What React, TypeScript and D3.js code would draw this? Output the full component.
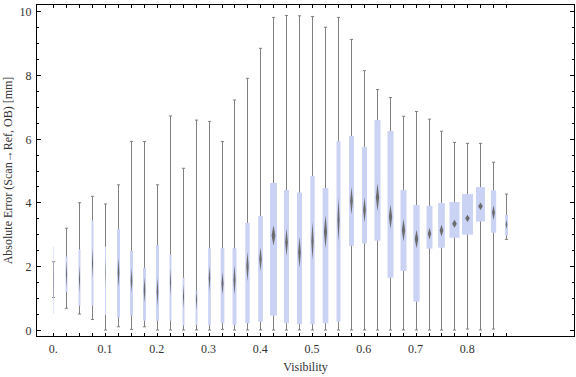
import React from "react";
import * as d3 from "d3";

// ---- data ----
const visibility = [0, 0.025, 0.05, 0.075, 0.1, 0.125, 0.15, 0.175, 0.2, 0.225, 0.25, 0.275, 0.3, 0.325, 0.35, 0.375, 0.4, 0.425, 0.45, 0.475, 0.5, 0.525, 0.55, 0.575, 0.6, 0.625, 0.65, 0.675, 0.7, 0.725, 0.75, 0.775, 0.8, 0.825, 0.85, 0.875];
const whiskerLo = [1.02, 0.68, 0.5, 0.33, 0.0, 0.1, 0.02, 0.1, 0.0, 0.0, 0.0, 0.0, 0.0, 0.02, 0.0, 0.0, 0.0, 0.0, 0.0, 0.0, 0.0, 0.0, 0.0, 0.0, 0.0, 0.0, 0.0, 0.0, 0.0, 0.0, 0.0, 0.0, 0.03, 0.0, 0.03, 2.84];
const quart1 = [0.52, 1.2, 0.76, 0.76, 0.47, 0.39, 0.45, 0.29, 0.29, 0.29, 0.14, 0.16, 0.16, 0.21, 0.16, 0.21, 0.26, 0.45, 0.21, 0.18, 0.18, 0.21, 0.26, 2.64, 2.71, 2.8, 1.64, 1.85, 0.89, 2.55, 2.58, 2.89, 2.99, 3.4, 3.05, 2.96];
const medians = [1.58, 1.75, 1.6, 2.1, 1.8, 1.8, 1.55, 1.25, 1.2, 1.5, 1.05, 0.95, 1.62, 1.46, 1.57, 1.99, 2.22, 2.96, 2.75, 2.43, 2.8, 3.08, 3.45, 4.05, 3.76, 4.16, 3.55, 3.13, 2.85, 3.02, 3.12, 3.33, 3.5, 3.88, 3.68, 3.31];
const quart3 = [2.61, 2.3, 2.53, 3.43, 2.61, 3.17, 2.48, 1.95, 2.66, 2.36, 1.64, 1.22, 2.56, 2.56, 2.56, 3.36, 3.57, 4.61, 4.39, 4.31, 4.83, 4.45, 5.92, 6.08, 5.74, 6.58, 6.24, 4.39, 3.92, 3.89, 3.98, 4.01, 4.26, 4.48, 4.38, 3.61];
const whiskerHi = [2.14, 3.19, 3.99, 4.19, 3.95, 4.55, 5.91, 5.91, 4.55, 6.71, 5.07, 6.58, 6.54, 5.91, 7.21, 7.89, 8.83, 9.8, 9.86, 9.85, 9.83, 9.49, 9.8, 9.11, 8.13, 7.54, 7.29, 6.7, 6.85, 6.61, 6.23, 5.88, 5.85, 5.85, 5.26, 4.26];
// spread of the median estimate (full height, in mm)
const medianSpread = [1.12, 0.8, 0.8, 0.9, 0.8, 0.84, 0.73, 0.73, 0.8, 0.8, 0.7, 0.6, 0.73, 0.63, 0.84, 0.84, 0.68, 0.57, 0.78, 0.89, 1.1, 0.94, 1.25, 0.78, 0.73, 0.78, 0.68, 0.65, 0.54, 0.34, 0.34, 0.23, 0.21, 0.21, 0.42, 0.26];
// relative sample count (controls box width)
const sampleCount = [12, 40, 40, 40, 20, 60, 60, 60, 60, 40, 40, 40, 54, 74, 80, 86, 94, 140, 100, 100, 86, 114, 80, 100, 100, 120, 120, 120, 126, 120, 134, 200, 220, 180, 106, 60];

const xTickValues = [0, 0.1, 0.2, 0.3, 0.4, 0.5, 0.6, 0.7, 0.8];
const xTickLabels = ["0.", "0.1", "0.2", "0.3", "0.4", "0.5", "0.6", "0.7", "0.8"];
const yTickValues = [0, 2, 4, 6, 8, 10];
const yTickLabels = ["0", "2", "4", "6", "8", "10"];
const yMinorTicks = [0.5, 1, 1.5, 2.5, 3, 3.5, 4.5, 5, 5.5, 6.5, 7, 7.5, 8.5, 9, 9.5];

const W = 576, H = 377;
const L = 36, R = 575, T = 4, B = 337;

export default function App() {
  const x = d3.scaleLinear().domain([-0.0335, 1.008]).range([L, R]);
  const y = d3.scaleLinear().domain([-0.22, 10.22]).range([B, T]);
  const wScale = d3.scaleLinear().domain([0, 220]).range([0, 11]);
  const font = "'Liberation Serif', 'Times New Roman', serif";
  const whiskerColor = "#808080";
  const boxColor = "#cbd3f5";
  const markColor = "#6c6c6c";

  return (
    <svg width={W} height={H} style={{ position: "absolute", left: 0, top: 0, background: "#fff" }} fontFamily={font}>
      <defs>
        <filter id="soft" x="-50%" y="-50%" width="200%" height="200%">
          <feGaussianBlur stdDeviation="0.45" />
        </filter>
      </defs>
      {/* whiskers */}
      {visibility.map((v, i) => {
        const cx = Math.round(x(v)) + 0.5;
        const cw = 1.6;
        return (
          <g key={"w" + i} stroke={whiskerColor} strokeWidth={1}>
            <line x1={cx} x2={cx} y1={y(whiskerLo[i])} y2={y(whiskerHi[i])} />
            <line x1={cx - cw} x2={cx + cw} y1={y(whiskerLo[i])} y2={y(whiskerLo[i])} />
            <line x1={cx - cw} x2={cx + cw} y1={y(whiskerHi[i])} y2={y(whiskerHi[i])} />
          </g>
        );
      })}
      {/* boxes */}
      {visibility.map((v, i) => {
        const cx = Math.round(x(v)) + 0.5;
        const w = wScale(sampleCount[i]);
        return (
          <rect key={"b" + i} x={cx - w / 2} y={y(quart3[i])} width={w} height={y(quart1[i]) - y(quart3[i])} fill={boxColor} />
        );
      })}
      {/* median markers */}
      {visibility.map((v, i) => {
        const cx = Math.round(x(v)) + 0.5;
        const w = wScale(sampleCount[i]);
        const mw = Math.min(4.7, 0.55 * w);
        const top = y(medians[i] + medianSpread[i] * 0.55);
        const bot = y(medians[i] - medianSpread[i] * 0.55);
        const my = y(medians[i]);
        const pts = [[cx, top], [cx + mw / 2, my], [cx, bot], [cx - mw / 2, my]].map((p) => p.join(",")).join(" ");
        return <polygon key={"m" + i} points={pts} fill={markColor} filter="url(#soft)" />;
      })}
      {/* frame */}
      <rect x={L + 0.5} y={T + 0.5} width={R - L - 1} height={B - T - 1} fill="none" stroke="#000" strokeWidth={1} />
      {/* x ticks (bottom and top) */}
      {visibility.map((v, i) => {
        const cx = Math.round(x(v)) + 0.5;
        return (
          <g key={"xt" + i} stroke="#000" strokeWidth={1}>
            <line x1={cx} x2={cx} y1={B} y2={B - 4} />
            <line x1={cx} x2={cx} y1={T} y2={T + 4} />
          </g>
        );
      })}
      {xTickValues.map((v, i) => (
        <text key={"xl" + i} x={x(v)} y={353} textAnchor="middle" fontSize={12} fill="#333">
          {xTickLabels[i]}
        </text>
      ))}
      {/* y ticks */}
      {yTickValues.map((v, i) => {
        const yy = Math.round(y(v)) + 0.5;
        return (
          <g key={"yt" + i}>
            <line x1={L} x2={L + 5} y1={yy} y2={yy} stroke="#000" />
            <line x1={R} x2={R - 5} y1={yy} y2={yy} stroke="#000" />
            <text x={31.5} y={yy} dy="0.35em" textAnchor="end" fontSize={12} fill="#333">
              {yTickLabels[i]}
            </text>
          </g>
        );
      })}
      {yMinorTicks.map((v, i) => {
        const yy = Math.round(y(v)) + 0.5;
        return (
          <g key={"ym" + i} stroke="#000">
            <line x1={L} x2={L + 3} y1={yy} y2={yy} />
            <line x1={R} x2={R - 3} y1={yy} y2={yy} />
          </g>
        );
      })}
      {/* axis labels */}
      <text x={(L + R) / 2} y={371} textAnchor="middle" fontSize={12} fill="#333">
        Visibility
      </text>
      <text transform={`translate(12, ${(T + B) / 2}) rotate(-90)`} textAnchor="middle" fontSize={12} fill="#333">
        Absolute Error (Scan→Ref, OB) [mm]
      </text>
    </svg>
  );
}
